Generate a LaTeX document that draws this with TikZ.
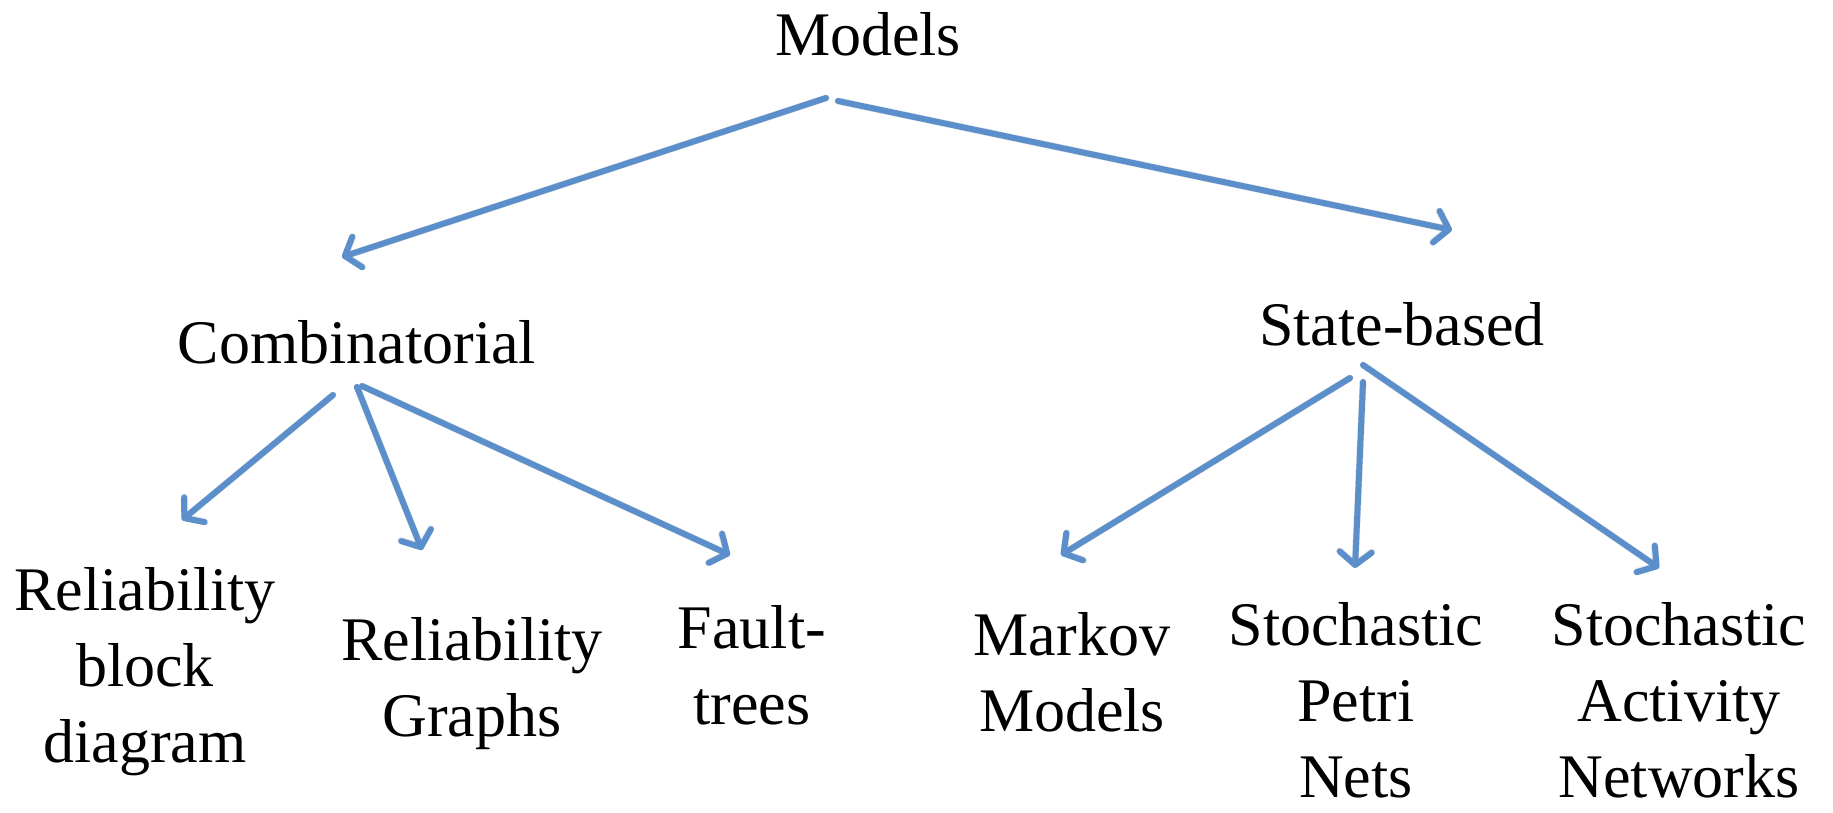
\documentclass[tikz,border=0pt]{standalone}
\usepackage{fontspec}
\setmainfont{Liberation Serif}
\usetikzlibrary{arrows.meta}
\definecolor{linkblue}{RGB}{91,143,203}
\tikzset{
  % base anchor of a multi-line label sits on its last line
  label/.style={font=\fontsize{62}{76}\selectfont, align=center, anchor=base, inner sep=0pt},
  link/.style={draw=linkblue, line width=6pt, line cap=round,
    -{Straight Barb[length=13pt, width=32pt, line width=6pt, round]}},
  linkshadow/.style={draw=black!45, opacity=0.25, line width=7pt, line cap=round,
    -{Straight Barb[length=13pt, width=32pt, line width=7pt, round]}, shift={(2pt,3pt)}}
}
\begin{document}
\begin{tikzpicture}[x=1pt, y=-1pt]
  \useasboundingbox (0,0) rectangle (1833,812);

  % category labels
  \node[label] (models) at (868,55)  {Models};
  \node[label] (comb)   at (357,363) {Combinatorial};
  \node[label] (state)  at (1402,345) {State-based};

  % leaf labels
  \node[label] (rbd) at (145,762)  {Reliability\\block\\diagram};
  \node[label] (rg)  at (472,736)  {Reliability\\Graphs};
  \node[label] (ft)  at (752,724)  {Fault-\\trees};
  \node[label] (mm)  at (1072,731) {Markov\\Models};
  \node[label] (spn) at (1356,797) {Stochastic\\Petri\\Nets};
  \node[label] (san) at (1679,797) {Stochastic\\Activity\\Networks};

  % arrow end points
  \coordinate (m-l)  at (826,98);   \coordinate (comb-in)  at (342,257);
  \coordinate (m-r)  at (838,101);  \coordinate (state-in) at (1452,230);
  \coordinate (c-1)  at (333,395);  \coordinate (rbd-in) at (182,520);
  \coordinate (c-2)  at (357,387);  \coordinate (rg-in)  at (422,550);
  \coordinate (c-3)  at (362,386);  \coordinate (ft-in)  at (730,555);
  \coordinate (s-1)  at (1350,378); \coordinate (mm-in)  at (1061,555);
  \coordinate (s-2)  at (1363,382); \coordinate (spn-in) at (1355,568);
  \coordinate (s-3)  at (1363,365); \coordinate (san-in) at (1659,568);

  % soft shadows under the arrows
  \foreach \a/\b in {m-l/comb-in, m-r/state-in, c-1/rbd-in, c-2/rg-in, c-3/ft-in,
                     s-1/mm-in, s-2/spn-in, s-3/san-in}
    \draw[linkshadow] (\a) -- (\b);

  % arrows
  \foreach \a/\b in {m-l/comb-in, m-r/state-in, c-1/rbd-in, c-2/rg-in, c-3/ft-in,
                     s-1/mm-in, s-2/spn-in, s-3/san-in}
    \draw[link] (\a) -- (\b);
\end{tikzpicture}
\end{document}
